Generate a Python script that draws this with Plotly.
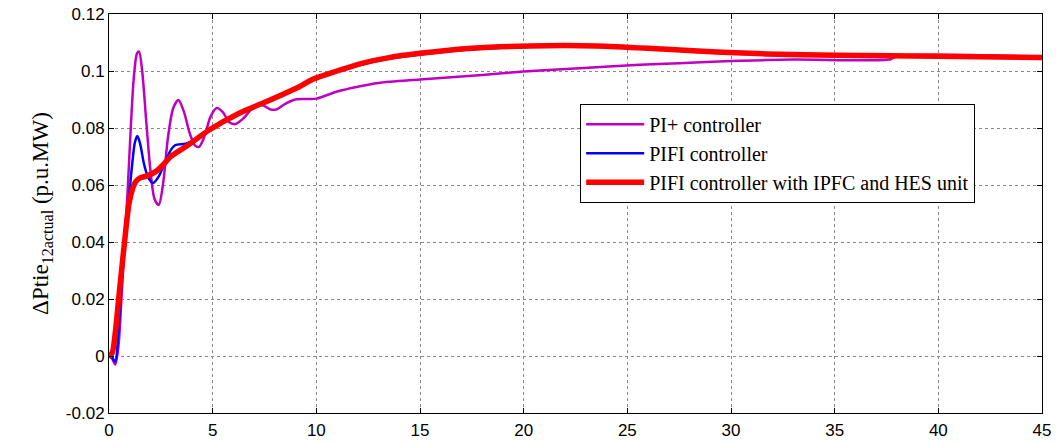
import plotly.graph_objects as go

# PI+ controller
t_pi = [0, 0.15, 0.3, 0.45, 0.6, 0.75, 0.9, 1.05, 1.2, 1.35, 1.45, 1.6, 1.8, 2.0, 2.2, 2.4, 2.6, 2.85,
        3.1, 3.35, 3.6, 3.9, 4.15, 4.35, 4.6, 4.9, 5.2, 5.5, 5.8, 6.1, 6.5, 7.0, 7.4, 7.8, 8.1, 8.5,
        9.0, 10.0, 11.0, 12.0, 13.0, 15.0, 18.0, 20.0, 22.7, 25.6, 27.5, 30.0, 33.0, 37.7, 38.0, 45.0]
v_pi = [0, -0.001, -0.003, 0.003, 0.02, 0.04, 0.058, 0.08, 0.098, 0.1062, 0.1068, 0.1, 0.082, 0.065,
        0.055, 0.053, 0.06, 0.077, 0.087, 0.0898, 0.086, 0.078, 0.0738, 0.0734, 0.077, 0.084, 0.087,
        0.0855, 0.082, 0.0814, 0.0835, 0.0875, 0.088, 0.0865, 0.0866, 0.0885, 0.090, 0.0903, 0.0928,
        0.0945, 0.0958, 0.097, 0.0986, 0.0998, 0.101, 0.1022, 0.1027, 0.1035, 0.104, 0.1041, 0.1052, 0.105]

# PIFI controller
t_pifi = [0, 0.15, 0.3, 0.45, 0.6, 0.8, 0.97, 1.1, 1.25, 1.37, 1.5, 1.7, 1.9, 2.13, 2.4, 2.7, 3.0, 3.2,
          3.7, 4.3, 4.83, 6.28, 7.57, 9.18, 9.8, 11.0, 12.2, 13.5, 15.0, 17.5, 20.3, 21.0, 23.5, 26.7,
          29.3, 31.7, 35.0, 40.0, 45.0]
v_pifi = [0, -0.0005, -0.002, 0.008, 0.025, 0.043, 0.056, 0.066, 0.075, 0.0772, 0.0745, 0.067, 0.0625,
          0.0607, 0.063, 0.068, 0.0725, 0.074, 0.0745, 0.0765, 0.0793, 0.0852, 0.0892, 0.0945, 0.097,
          0.0997, 0.1023, 0.1043, 0.1058, 0.1076, 0.1085, 0.1088, 0.1088, 0.1077, 0.1067, 0.106, 0.1055,
          0.1052, 0.1047]

# PIFI controller with IPFC and HES unit
t_hes = [0, 0.15, 0.3, 0.48, 0.72, 0.97, 1.15, 1.29, 1.5, 1.84, 2.25, 2.6, 2.98, 3.7, 4.83, 6.28, 7.57,
         9.18, 9.8, 11.0, 12.2, 13.5, 15.0, 17.5, 20.3, 23.5, 26.7, 29.3, 31.7, 35.0, 40.0, 45.0]
v_hes = [0, 0.001, 0.008, 0.021, 0.038, 0.0537, 0.059, 0.0612, 0.0625, 0.0632, 0.0647, 0.067, 0.070,
         0.0734, 0.0793, 0.0852, 0.0892, 0.0945, 0.097, 0.1, 0.1027, 0.1047, 0.1062, 0.108, 0.1088,
         0.1088, 0.1077, 0.1067, 0.106, 0.1055, 0.1052, 0.1047]

x_ticks = [0, 5, 10, 15, 20, 25, 30, 35, 40, 45]
y_ticks = [-0.02, 0, 0.02, 0.04, 0.06, 0.08, 0.1, 0.12]
y_tick_text = ["-0.02", "0", "0.02", "0.04", "0.06", "0.08", "0.1", "0.12"]

names = ["PI+ controller", "PIFI controller", "PIFI controller with IPFC and HES unit"]

fig = go.Figure()
fig.add_trace(go.Scatter(x=t_pi, y=v_pi, mode="lines", name=names[0], legendgroup="a",
                         line=dict(color="#c000c0", width=2.5, shape="spline", smoothing=0.8)))
fig.add_trace(go.Scatter(x=t_pifi, y=v_pifi, mode="lines", name=names[1], legendgroup="b",
                         line=dict(color="#0000ff", width=2.5, shape="spline", smoothing=0.8)))
fig.add_trace(go.Scatter(x=t_hes, y=v_hes, mode="lines", name=names[2], legendgroup="c",
                         line=dict(color="#ff0000", width=5.5, shape="spline", smoothing=0.8)))

axis_common = dict(showline=True, linecolor="black", linewidth=1, mirror="allticks",
                   ticks="inside", ticklen=5, tickcolor="black",
                   showgrid=True, gridcolor="#888888", griddash="dot", gridwidth=1,
                   zeroline=False, automargin=False,
                   tickfont=dict(family="Liberation Sans, Arial", size=17, color="black"))

fig.update_xaxes(range=[0, 45], tickvals=x_ticks, ticklabelstandoff=2, **axis_common)
fig.update_yaxes(range=[-0.02, 0.12], tickvals=y_ticks, ticktext=y_tick_text,
                 title=dict(text="ΔPtie<sub>12actual</sub> (p.u.MW)",
                            font=dict(family="Liberation Serif, Times New Roman", size=23, color="black"),
                            standoff=10),
                 **axis_common)

fig.update_layout(
    width=1057, height=443,
    margin=dict(l=109, r=15, t=14, b=30),
    plot_bgcolor="white", paper_bgcolor="white",
    legend=dict(x=0.505, y=0.775, xanchor="left", yanchor="top",
                bgcolor="white", bordercolor="black", borderwidth=1,
                font=dict(family="Liberation Serif, Times New Roman", size=20, color="black"),
                tracegroupgap=0, itemwidth=58),
)

fig.write_html("out.html", config={"displayModeBar": False},
               post_script="document.body.style.margin='0';")
